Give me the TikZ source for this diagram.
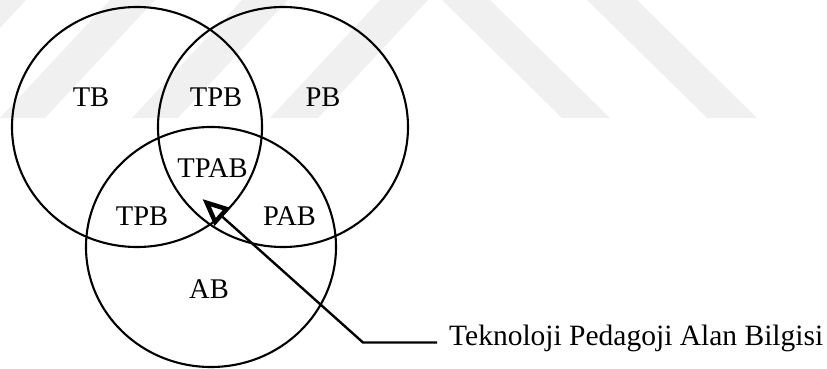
\documentclass[tikz,border=0pt]{standalone}
\usepackage{fontspec}
\setmainfont{Liberation Serif}
\usetikzlibrary{shapes.geometric,arrows.meta}
\begin{document}
\begin{tikzpicture}[x=1pt,y=-1pt,
  venn/.style={draw,ellipse,line width=2.1pt,minimum width=250pt,minimum height=240pt,inner sep=0pt},
  region/.style={font=\fontsize{28.5}{30}\selectfont,inner sep=0pt},
  callout/.style={font=\fontsize{29.5}{31}\selectfont,inner sep=0pt,anchor=base west},
  pointer/.style={line width=2.4pt,-{Triangle[open,length=27pt,width=23pt,line width=4.5pt]}},
  wmark/.style={fill=black!6,draw=none}]
\useasboundingbox (0,0) rectangle (827,369);
\begin{scope}
\clip (0,0) rectangle (827,369);
% watermark stripes
\fill[wmark] (-132,118) -- (-84,118) -- (26,0) -- (-22,0) -- cycle;
\fill[wmark] (0,118) -- (45,118) -- (155,0) -- (110,0) -- cycle;
\fill[wmark] (132,118) -- (178,118) -- (288,0) -- (242,0) -- cycle;
\fill[wmark] (270,118) -- (318,118) -- (428,0) -- (380,0) -- cycle;
\fill[wmark] (442,0) -- (490,0) -- (610,118) -- (562,118) -- cycle;
\fill[wmark] (587,0) -- (637,0) -- (757,118) -- (707,118) -- cycle;
\end{scope}
% circles
\node[venn] (T) at (137,127) {};
\node[venn] (P) at (283,127) {};
\node[venn] (A) at (211,247) {};
% region labels
\node[region] (tb) at (91,97) {TB};
\node[region] (tpb1) at (216,97) {TPB};
\node[region] (pb) at (323,97) {PB};
\node[region] (tpab) at (212.5,168) {TPAB};
\node[region] (tpb2) at (142,216) {TPB};
\node[region] (pab) at (289.5,216) {PAB};
\node[region] (ab) at (209,289) {AB};
% callout
\node[callout] (lbl) at (449,345) {Teknoloji Pedagoji Alan Bilgisi};
\coordinate (tip) at (202.5,199);
\coordinate (elbow) at (363,342.5);
\coordinate (tail) at (437,342.5);
\draw[pointer] (tail) -- (elbow) -- (tip);
\end{tikzpicture}
\end{document}
